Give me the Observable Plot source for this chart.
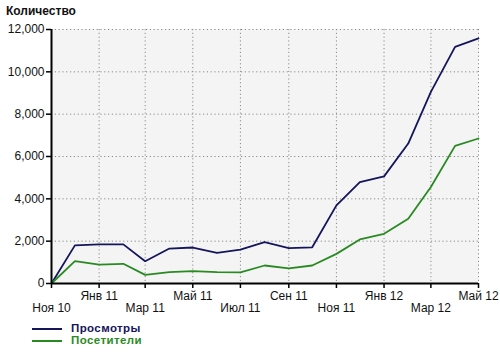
<!DOCTYPE html>
<html>
<head>
<meta charset="utf-8">
<script src="https://cdn.jsdelivr.net/npm/d3@7"></script>
<script src="https://cdn.jsdelivr.net/npm/@observablehq/plot@0.6"></script>
<style>
  html, body { margin: 0; padding: 0; background: #fff; }
  body { width: 500px; height: 354px; overflow: hidden; font-family: "Liberation Sans", Arial, sans-serif; }
  #title { height: 20px; line-height: 22px; padding-left: 6px; font-weight: bold; font-size: 12px; color: #111; }
  #chart svg { display: block; }
  .leg { position: relative; height: 12px; font-weight: bold; font-size: 11.5px; line-height: 11px; letter-spacing: 0.4px; }
  .leg .sw { position: absolute; left: 32px; top: 5px; width: 30px; height: 0; border-top: 2px solid; }
  .leg .tx { position: absolute; left: 71px; top: 0px; line-height: 11px; }
</style>
</head>
<body>
<div id="title">Количество</div>
<div id="chart"></div>
<div id="legend" style="padding-top:7px"></div>
<script>
const months = ["2010-11","2010-12","2011-01","2011-02","2011-03","2011-04","2011-05","2011-06","2011-07","2011-08","2011-09","2011-10","2011-11","2011-12","2012-01","2012-02","2012-03","2012-04","2012-05"];
const views    = [0, 1800, 1850, 1850, 1050, 1650, 1700, 1450, 1600, 1950, 1670, 1710, 3690, 4790, 5060, 6610, 9050, 11180, 11580];
const visitors = [0, 1060, 890, 930, 410, 540, 580, 540, 530, 850, 710, 850, 1400, 2080, 2350, 3060, 4560, 6500, 6850];
const seriesNames = ["Просмотры", "Посетители"];
const seriesColors = ["#15155c", "#2a8a22"];
const tickMonths = ["2010-11","2011-01","2011-03","2011-05","2011-07","2011-09","2011-11","2012-01","2012-03","2012-05"];
const tickLabels = ["Ноя 10","Янв 11","Мар 11","Май 11","Июл 11","Сен 11","Ноя 11","Янв 12","Мар 12","Май 12"];
const yTicks = [0, 2000, 4000, 6000, 8000, 10000, 12000];

const parse = d3.utcParse("%Y-%m");
const dates = months.map(parse);
const tickDates = tickMonths.map(parse);
const labelOf = new Map(tickDates.map((d, i) => [+d, tickLabels[i]]));
const upper = tickDates.filter((d, i) => i % 2 === 1);
const lower = tickDates.filter((d, i) => i % 2 === 0);

const data = [];
dates.forEach((d, i) => {
  data.push({date: d, value: views[i], series: seriesNames[0]});
  data.push({date: d, value: visitors[i], series: seriesNames[1]});
});

const chart = Plot.plot({
  width: 500,
  height: 296,
  marginTop: 9,
  marginBottom: 33,
  marginLeft: 51,
  marginRight: 22,
  style: {fontFamily: "'Liberation Sans', Arial, sans-serif", fontSize: "11px", color: "#111", background: "#fff"},
  x: {type: "utc", domain: [dates[0], dates[dates.length - 1]]},
  y: {domain: [0, 12000]},
  color: {domain: seriesNames, range: seriesColors},
  marks: [
    Plot.frame({fill: "#f4f4f4", stroke: null}),
    Plot.gridX(tickDates.slice(1), {stroke: "#8a8a8a", strokeOpacity: 1, strokeDasharray: "1.2,2.6"}),
    Plot.gridY(yTicks.slice(1), {stroke: "#8a8a8a", strokeOpacity: 1, strokeDasharray: "1.2,2.6"}),
    Plot.line(data, {x: "date", y: "value", z: "series", stroke: "series", strokeWidth: 1.8, strokeLinejoin: "miter"}),
    Plot.ruleX([dates[0]], {stroke: "#000", strokeWidth: 2}),
    Plot.ruleY([0], {stroke: "#000", strokeWidth: 2}),
    Plot.axisY(yTicks, {tickFormat: d3.format(","), tickSize: 5, tickPadding: 2, fontSize: 12, stroke: "#000", strokeWidth: 1.5, label: null}),
    Plot.axisX(upper, {tickFormat: d => labelOf.get(+d), tickSize: 5, tickPadding: 3, fontSize: 12, stroke: "#000", strokeWidth: 1.5, label: null}),
    Plot.axisX(lower, {tickFormat: d => labelOf.get(+d), tickSize: 5, tickPadding: 15, fontSize: 12, stroke: "#000", strokeWidth: 1.5, label: null})
  ]
});
document.getElementById("chart").appendChild(chart);

const legend = document.getElementById("legend");
seriesNames.forEach((name, i) => {
  const row = document.createElement("div");
  row.className = "leg";
  const sw = document.createElement("span");
  sw.className = "sw";
  sw.style.borderTopColor = seriesColors[i];
  const tx = document.createElement("span");
  tx.className = "tx";
  tx.style.color = seriesColors[i];
  tx.textContent = name;
  row.appendChild(sw);
  row.appendChild(tx);
  legend.appendChild(row);
});
</script>
</body>
</html>
